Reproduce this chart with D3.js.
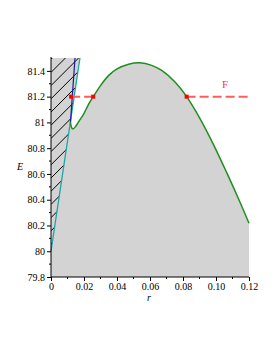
<!DOCTYPE html>
<html>
<head>
<meta charset="utf-8">
<script src="https://cdn.jsdelivr.net/npm/d3@7"></script>
<style>
  body { margin: 0; background: #fff; }
  svg { display: block; }
</style>
</head>
<body>
<svg width="277" height="358"></svg>
<script>
// green curve (E versus r)
const curveR = [0.0118, 0.0127, 0.0135, 0.0150, 0.0170, 0.0196, 0.0225, 0.0256, 0.0297, 0.0350,
                0.0400, 0.0470, 0.0539, 0.0610, 0.0671, 0.0750, 0.0822, 0.0903, 0.0984, 0.1065,
                0.1145, 0.1200];
const curveE = [81.00, 80.955, 80.95, 80.97, 81.01, 81.06, 81.135, 81.20, 81.28, 81.365,
                81.415, 81.452, 81.463, 81.443, 81.403, 81.315, 81.20, 81.03, 80.83, 80.61,
                80.382, 80.217];

// teal boundary line and blue line
const tealR = [0, 0.01755];
const tealE = [80, 81.5];
const blueR = [0.0118, 0.01455];
const blueE = [81.0, 81.5];

// F level, dashed segments and red points
const levelF = 81.2;
const dashSegments = [[0.0122, 0.0256], [0.0822, 0.1195]];
const redDotsR = [0.0122, 0.0256, 0.0822];
const labelF = {r: 0.1055, E: 81.27, text: "F"};

const xTicks = [0, 0.02, 0.04, 0.06, 0.08, 0.10, 0.12];
const yTicks = [79.8, 80, 80.2, 80.4, 80.6, 80.8, 81, 81.2, 81.4];

const serif = '"Liberation Serif", "Times New Roman", serif';
const svg = d3.select('svg');

const x = d3.scaleLinear().domain([0, 0.12]).range([51, 249]);
const y = d3.scaleLinear().domain([79.8, 81.5]).range([277, 58]);

const curve = curveR.map((r, i) => [r, curveE[i]]);

const line = d3.line().x(d => x(d[0])).y(d => y(d[1]));
const smooth = d3.line().x(d => x(d[0])).y(d => y(d[1])).curve(d3.curveCatmullRom.alpha(0.5));

// gray region: left of the teal line plus everything under the green curve
svg.append('path')
    .attr('d', () => {
        const left = line([[0, 79.8], [0, 81.5], [tealR[1], tealE[1]]]);
        const c = smooth(curve).replace(/^M/, 'L');
        return left + c + 'L' + x(0.12) + ',' + y(79.8) + 'Z';
    })
    .attr('fill', '#d3d3d3');

// hatching in the triangle left of the teal line
const clip = svg.append('clipPath').attr('id', 'hatchClip');
clip.append('path').attr('d', line([[0, 80], [0, 81.5], [tealR[1], tealE[1]]]) + 'Z');
const hatch = svg.append('g').attr('clip-path', 'url(#hatchClip)');
for (let c = y(80) + 6; c > y(81.5) - 40; c -= 13.2) {
    hatch.append('line')
        .attr('x1', x(0)).attr('y1', c)
        .attr('x2', x(0) + 40).attr('y2', c - 40)
        .attr('stroke', '#000').attr('stroke-width', 1);
}

// teal and blue lines
svg.append('path')
    .attr('d', line(tealR.map((r, i) => [r, tealE[i]])))
    .attr('stroke', '#1aa6a6').attr('stroke-width', 1.3).attr('fill', 'none');
svg.append('path')
    .attr('d', line(blueR.map((r, i) => [r, blueE[i]])))
    .attr('stroke', '#1c1c99').attr('stroke-width', 1.2).attr('fill', 'none');

// green curve
svg.append('path')
    .attr('d', smooth(curve))
    .attr('stroke', '#1f8f1f').attr('stroke-width', 1.5).attr('fill', 'none');

// dashed F level
dashSegments.forEach(s => {
    svg.append('line')
        .attr('x1', x(s[0])).attr('x2', x(s[1]))
        .attr('y1', y(levelF)).attr('y2', y(levelF))
        .attr('stroke', '#ff5c5c').attr('stroke-width', 2)
        .attr('stroke-dasharray', '9,4');
});
svg.selectAll('.dot').data(redDotsR).enter().append('rect')
    .attr('x', d => x(d) - 2).attr('y', y(levelF) - 2)
    .attr('width', 4).attr('height', 4).attr('fill', '#ff0000');

svg.append('text')
    .attr('x', x(labelF.r)).attr('y', y(labelF.E))
    .attr('text-anchor', 'middle')
    .attr('font-family', serif).attr('font-size', 11)
    .attr('fill', '#ff3b3b')
    .text(labelF.text);

// axes
const yAxis = svg.append('g').attr('transform', `translate(${x(0)},0)`)
    .call(d3.axisLeft(y).tickValues(yTicks).tickSize(4).tickPadding(2).tickFormat(d => String(+d.toFixed(1))))
    .attr('font-family', serif).attr('font-size', 10);
yAxis.select('.domain').attr('d', `M0,${y(79.8)}V57`);
const yMinor = d3.range(79.9, 81.5, 0.2);
yAxis.selectAll('.minor').data(yMinor).enter().append('line')
    .attr('x1', 0).attr('x2', -2).attr('y1', d => y(d)).attr('y2', d => y(d)).attr('stroke', '#000');

const xAxis = svg.append('g').attr('transform', `translate(0,${y(79.8)})`)
    .call(d3.axisBottom(x).tickValues(xTicks).tickSize(4).tickPadding(2)
        .tickFormat(d => d === 0 ? '0' : d3.format('.2f')(d)))
    .attr('font-family', serif).attr('font-size', 10);
xAxis.select('.domain').attr('d', `M${x(0)},0H${x(0.12)}`);
const xMinor = d3.range(0.01, 0.12, 0.02);
xAxis.selectAll('.minor').data(xMinor).enter().append('line')
    .attr('y1', 0).attr('y2', 2).attr('x1', d => x(d)).attr('x2', d => x(d)).attr('stroke', '#000');

svg.append('text').attr('x', 20).attr('y', 170)
    .attr('text-anchor', 'middle')
    .attr('font-family', serif).attr('font-style', 'italic').attr('font-size', 10)
    .text('E');
svg.append('text').attr('x', 149).attr('y', 301)
    .attr('text-anchor', 'middle')
    .attr('font-family', serif).attr('font-style', 'italic').attr('font-size', 10)
    .text('r');
</script>
</body>
</html>
